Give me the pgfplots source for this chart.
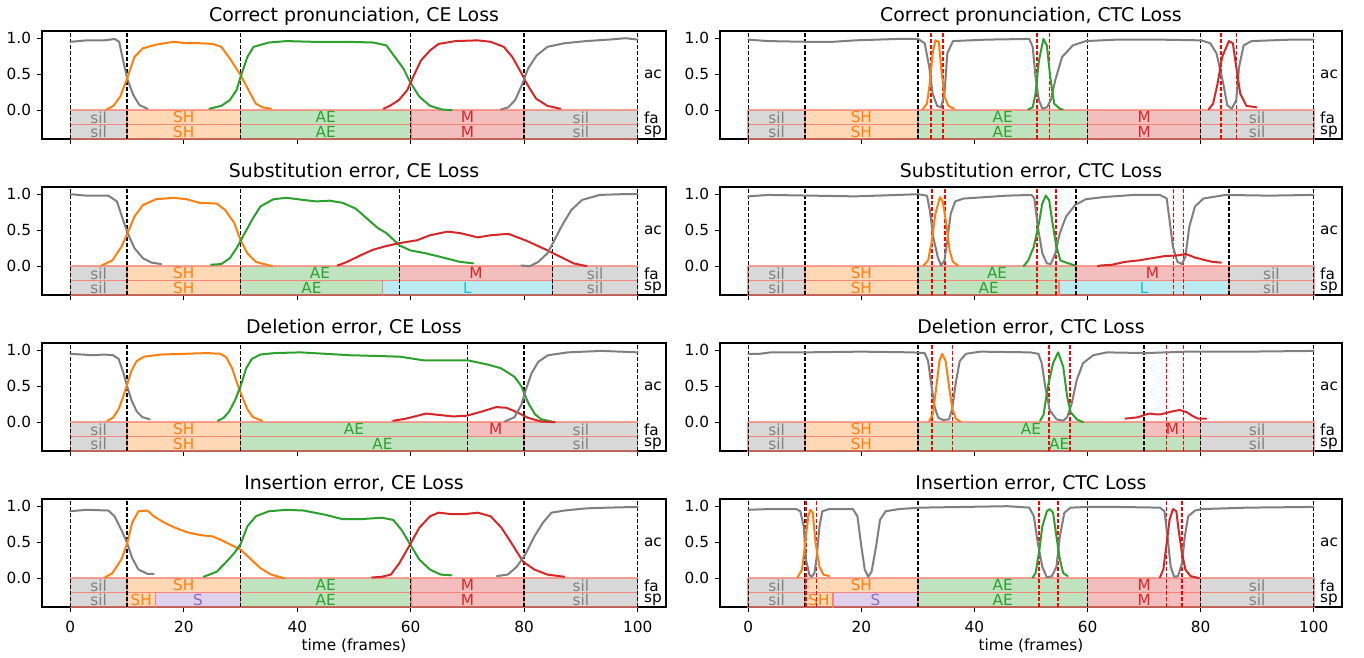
\documentclass[border=0pt]{standalone}
\usepackage{fontspec}
\setmainfont{DejaVu Sans}
\usepackage{pgfplots}
\pgfplotsset{compat=1.18}
\definecolor{tgray}{HTML}{7F7F7F}
\definecolor{torange}{HTML}{FF7F0E}
\definecolor{tgreen}{HTML}{2CA02C}
\definecolor{tred}{HTML}{D62728}
\definecolor{tpurple}{HTML}{9467BD}
\definecolor{tcyan}{HTML}{17BECF}
\definecolor{salmon}{HTML}{FA8072}
\newcommand{\tickfont}{\fontsize{15.3bp}{18bp}\selectfont}
\newcommand{\titlefont}{\fontsize{18.9bp}{22bp}\selectfont}
\newcommand{\lblfont}{\fontsize{15.3bp}{18bp}\selectfont}
% x1 x2 ytop ybot ymid color label xmid
\newcommand{\seg}[8]{%
  \addplot[draw=salmon, draw opacity=0.75, line width=1.6bp, fill=#6, fill opacity=0.3]
    coordinates {(#1,#3) (#2,#3) (#2,#4) (#1,#4) (#1,#3)};
  \node[text=#6, font=\lblfont, inner sep=0pt] at (axis cs:#8,#5) {#7};
}
\newcommand{\rowA}[5]{\seg{#1}{#2}{0}{-0.2}{-0.1}{#3}{#4}{#5}}
\newcommand{\rowB}[5]{\seg{#1}{#2}{-0.2}{-0.4}{-0.3}{#3}{#4}{#5}}
\newcommand{\vk}[1]{\addplot[black, line width=1.5bp, dash pattern=on 4bp off 2bp] coordinates {(#1,-0.4) (#1,1.1)};}
\newcommand{\vr}[1]{\addplot[red, line width=1.5bp, dash pattern=on 4bp off 2bp] coordinates {(#1,-0.4) (#1,1.1)};}
\newcommand{\crv}[2]{\addplot[#1, line width=2bp, line join=round, line cap=round] coordinates {#2};}
\newcommand{\side}{%
  \node[font=\tickfont, anchor=west, inner sep=0pt] at (axis cs:101.1,0.5) {ac};
  \node[font=\tickfont, anchor=west, inner sep=0pt] at (axis cs:101.1,-0.1) {fa};
  \node[font=\tickfont, anchor=west, inner sep=0pt] at (axis cs:101.1,-0.3) {sp};
}
\pgfplotsset{
  panel/.style={
    scale only axis, height=108bp, anchor=north west,
    xmin=-5, xmax=105, ymin=-0.4, ymax=1.1,
    xtick={0,20,...,100}, ytick={0,0.5,1},
    tick align=outside, tick pos=left, major tick length=5.3bp,
    axis line style={line width=1.1bp},
    every tick/.style={line width=1.1bp, black},
    /pgf/number format/assume math mode=true,
    ticklabel style={font=\tickfont},
    yticklabel style={/pgf/number format/fixed, /pgf/number format/fixed zerofill, /pgf/number format/precision=1, anchor=east, inner sep=0pt, xshift=-5.5bp},
    xticklabel style={anchor=base, inner sep=0pt, yshift=-20.3bp},
    title style={font=\titlefont, at={(0.5,1)}, anchor=base, yshift=4bp, inner sep=0pt},
    xlabel style={font=\tickfont, at={(0.5,0)}, anchor=base, yshift=-43bp, inner sep=0pt},
    clip=false,
  },
  L/.style={panel, width=624bp},
  R/.style={panel, width=622bp},
  nolab/.style={xticklabels={}},
}
\newcommand{\segsCorrect}{%
  \rowA{0}{10}{tgray}{sil}{5}\rowA{10}{30}{torange}{SH}{20}\rowA{30}{60}{tgreen}{AE}{45}\rowA{60}{80}{tred}{M}{70}\rowA{80}{100}{tgray}{sil}{90}
  \rowB{0}{10}{tgray}{sil}{5}\rowB{10}{30}{torange}{SH}{20}\rowB{30}{60}{tgreen}{AE}{45}\rowB{60}{80}{tred}{M}{70}\rowB{80}{100}{tgray}{sil}{90}
}
\newcommand{\segsSub}{%
  \rowA{0}{10}{tgray}{sil}{5}\rowA{10}{30}{torange}{SH}{20}\rowA{30}{58}{tgreen}{AE}{44}\rowA{58}{85}{tred}{M}{71.5}\rowA{85}{100}{tgray}{sil}{92.5}
  \rowB{0}{10}{tgray}{sil}{5}\rowB{10}{30}{torange}{SH}{20}\rowB{30}{55}{tgreen}{AE}{42.5}\rowB{55}{85}{tcyan}{L}{70}\rowB{85}{100}{tgray}{sil}{92.5}
}
\newcommand{\segsDel}{%
  \rowA{0}{10}{tgray}{sil}{5}\rowA{10}{30}{torange}{SH}{20}\rowA{30}{70}{tgreen}{AE}{50}\rowA{70}{80}{tred}{M}{75}\rowA{80}{100}{tgray}{sil}{90}
  \rowB{0}{10}{tgray}{sil}{5}\rowB{10}{30}{torange}{SH}{20}\rowB{30}{80}{tgreen}{AE}{55}\rowB{80}{100}{tgray}{sil}{90}
}
\newcommand{\segsIns}{%
  \rowA{0}{10}{tgray}{sil}{5}\rowA{10}{30}{torange}{SH}{20}\rowA{30}{60}{tgreen}{AE}{45}\rowA{60}{80}{tred}{M}{70}\rowA{80}{100}{tgray}{sil}{90}
  \rowB{0}{10}{tgray}{sil}{5}\rowB{10}{15}{torange}{SH}{12.5}\rowB{15}{30}{tpurple}{S}{22.5}\rowB{30}{60}{tgreen}{AE}{45}\rowB{60}{80}{tred}{M}{70}\rowB{80}{100}{tgray}{sil}{90}
}
\begin{document}
\begin{tikzpicture}
\useasboundingbox (0,0) rectangle (1364bp,-658bp);
%================ Row 1 left
\begin{axis}[L, nolab, at={(42bp,-31bp)}, title={Correct pronunciation, CE Loss}]
\segsCorrect
\vk{0}\vk{10}\vk{30}\vk{60}\vk{80}\vk{100}
\crv{tgray}{(0,0.95)(1.5,0.96)(2.8,0.97)(4.5,0.97)(5.9,0.97)(7,0.98)(7.8,0.99)(8.6,0.95)(9.3,0.69)(10.1,0.42)(11.1,0.21)(12.2,0.07)(13.6,0.02)}
\crv{torange}{(6.4,0.01)(7.6,0.06)(8.8,0.19)(10.1,0.46)(11.3,0.74)(12.8,0.86)(15.1,0.91)(18.2,0.95)(20.5,0.93)(22.8,0.93)(25.1,0.92)(26.6,0.88)(28.1,0.72)(30,0.49)(31.6,0.25)(32.7,0.09)(33.9,0.04)(35.4,0.02)}
\crv{tgreen}{(24.5,0.02)(26.6,0.06)(28.1,0.14)(29.3,0.28)(30,0.46)(31.2,0.74)(32.3,0.88)(35,0.94)(38.1,0.96)(42.7,0.95)(48.8,0.95)(53.4,0.94)(55.7,0.9)(57.2,0.74)(58.7,0.58)(59.9,0.39)(61.5,0.19)(63.4,0.06)(65.5,0.01)(67.2,0.0)}
\crv{tred}{(55.2,0.02)(56.3,0.06)(57.9,0.14)(59.4,0.28)(60.3,0.44)(61.8,0.69)(63.4,0.83)(64.9,0.92)(67.9,0.96)(71.8,0.97)(74.1,0.95)(76.4,0.88)(77.9,0.74)(79.4,0.53)(80.6,0.35)(82.1,0.16)(84.1,0.06)(86.4,0.02)}
\crv{tgray}{(75.9,0.01)(77.2,0.04)(78.4,0.14)(79.6,0.35)(80.7,0.58)(82.2,0.76)(84.1,0.88)(87.1,0.93)(90.9,0.96)(94.8,0.98)(97.9,1.0)(100,0.98)}
\side
\end{axis}
%================ Row 1 right
\begin{axis}[R, nolab, at={(720bp,-31bp)}, title={Correct pronunciation, CTC Loss}]
\segsCorrect
\vk{0}\vk{10}\vk{30}\vk{60}\vk{80}\vk{100}
\vr{32.3}\vr{34.4}\vr{51.1}\vr{53.3}\vr{83.6}\vr{86.3}
\crv{tgray}{(0,0.98)(3.5,0.96)(10.2,0.95)(15,0.95)(18.9,0.97)(26.6,0.99)(30,0.99)(31.2,0.93)(32,0.6)(32.6,0.23)(33.4,0.06)(34.1,0.04)(34.7,0.23)(35.2,0.79)(36.2,0.96)(42,0.98)(49.7,0.99)(50.3,0.88)(50.8,0.46)(51.4,0.14)(52,0.02)(52.8,0.04)(53.5,0.14)(54.3,0.42)(55.5,0.74)(57.4,0.9)(59.7,0.96)(65.1,0.98)(72.8,0.98)(80.1,0.97)(81.7,0.93)(82.8,0.79)(84,0.37)(84.7,0.07)(85.5,0.02)(86.3,0.14)(86.8,0.6)(87.6,0.9)(89,0.96)(95.9,0.98)(100,0.98)}
\crv{torange}{(30.8,0.01)(31.6,0.09)(32.1,0.37)(32.6,0.79)(33.1,0.97)(33.7,0.95)(34.1,0.6)(34.7,0.19)(35.4,0.06)(36.4,0.02)}
\crv{tgreen}{(49.5,0.01)(50.3,0.04)(50.8,0.23)(51.4,0.69)(52.2,0.99)(52.8,0.9)(53.4,0.46)(54.1,0.09)(55.1,0.02)(55.6,0.01)}
\crv{tred}{(81.4,0.01)(82.2,0.09)(83,0.37)(83.8,0.74)(85,0.96)(85.7,0.93)(86.3,0.6)(87,0.23)(88.1,0.06)(89.9,0.04)}
\side
\end{axis}
%================ Row 2 left
\begin{axis}[L, nolab, at={(42bp,-187bp)}, title={Substitution error, CE Loss}]
\segsSub
\vk{0}\vk{10}\vk{30}\vk{58}\vk{85}\vk{100}
\crv{tgray}{(0,1.0)(2.8,0.98)(6.7,0.98)(8.2,0.9)(9.3,0.64)(10.1,0.46)(11.3,0.25)(12.8,0.11)(14.3,0.05)(16,0.03)}
\crv{torange}{(5.5,0.01)(7.4,0.08)(9,0.27)(10.1,0.46)(11.3,0.69)(12.8,0.85)(15.1,0.93)(18.2,0.95)(20.5,0.93)(22.8,0.88)(25.8,0.87)(27.3,0.78)(28.9,0.6)(30,0.36)(31.2,0.18)(32.7,0.06)(35.6,0.0)}
\crv{tgreen}{(24.8,0.02)(26.6,0.03)(28.1,0.11)(29.3,0.25)(30.4,0.41)(32,0.64)(33.5,0.83)(35.8,0.93)(38.1,0.95)(41.1,0.92)(43.4,0.9)(45.7,0.91)(48,0.88)(50.3,0.8)(52.6,0.64)(54.2,0.53)(55.7,0.46)(58,0.29)(59.9,0.22)(62.6,0.18)(65.7,0.12)(68.7,0.06)(71,0.04)}
\crv{tred}{(47.1,0.01)(48.8,0.06)(51.1,0.15)(53.4,0.23)(55.7,0.28)(58,0.32)(61.1,0.36)(63.4,0.43)(66.5,0.48)(68.7,0.46)(71.8,0.4)(74.1,0.43)(77.2,0.45)(80.2,0.36)(83.3,0.25)(86.4,0.13)(88.7,0.04)(91,0.0)}
\crv{tgray}{(79.5,0.01)(81,0.0)(82.5,0.06)(84.1,0.18)(85.2,0.34)(86.7,0.57)(88.3,0.78)(90.2,0.92)(93.3,0.99)(97.1,1.0)(100,1.0)}
\side
\end{axis}
%================ Row 2 right
\begin{axis}[R, nolab, at={(720bp,-187bp)}, title={Substitution error, CTC Loss}]
\segsSub
\vk{0}\vk{10}\vk{30}\vk{58}\vk{85}\vk{100}
\vr{32.5}\vr{34.8}\vr{51.1}\vr{54.4}\vr{75.2}\vr{77.0}
\crv{tgray}{(0,0.97)(3.5,0.99)(11.2,0.98)(18.9,0.97)(26.6,0.99)(30,1.0)(31.6,0.98)(32.1,0.78)(32.7,0.41)(33.5,0.13)(34.1,0.01)(34.7,0.08)(35.2,0.36)(35.8,0.73)(36.6,0.9)(38.1,0.94)(42,0.96)(45.8,0.98)(50.1,0.99)(50.6,0.94)(51.2,0.55)(52,0.18)(52.8,0.04)(53.5,0.03)(54.3,0.18)(55.1,0.46)(56.2,0.69)(57.8,0.85)(59.7,0.93)(62.8,0.96)(68.2,0.99)(72.8,0.99)(74,0.94)(74.5,0.64)(75.1,0.27)(75.9,0.06)(76.7,0.03)(77.3,0.13)(78,0.55)(79,0.83)(80.5,0.94)(84.4,0.99)(92.1,0.98)(100,0.99)}
\crv{torange}{(31,0.01)(31.8,0.08)(32.4,0.32)(33.1,0.73)(33.9,0.96)(34.4,0.9)(35.1,0.55)(35.6,0.22)(36.2,0.06)(37.1,0.01)}
\crv{tgreen}{(48.7,0.0)(49.5,0.08)(50.5,0.27)(51.4,0.6)(52,0.87)(52.6,0.98)(53.2,0.92)(53.8,0.6)(54.5,0.27)(55.2,0.08)(56.2,0.05)(57.8,0.01)}
\crv{tred}{(61.8,0.0)(62.4,0.01)(64.3,0.02)(66.6,0.06)(69,0.08)(71.3,0.11)(73.6,0.14)(75.9,0.15)(77.4,0.17)(79,0.12)(80.5,0.09)(82.1,0.06)(83.6,0.05)}
\side
\end{axis}
%================ Row 3 left
\begin{axis}[L, nolab, at={(42bp,-343bp)}, title={Deletion error, CE Loss}]
\segsDel
\vk{0}\vk{10}\vk{30}\vk{70}\vk{80}\vk{100}
\crv{tgray}{(0,0.95)(2,0.94)(4,0.93)(6,0.94)(7.5,0.93)(8.5,0.88)(9.3,0.7)(10,0.5)(10.8,0.3)(11.7,0.15)(12.7,0.07)(14,0.04)}
\crv{torange}{(6.5,0.02)(7.5,0.06)(8.5,0.18)(9.3,0.35)(10,0.52)(10.8,0.72)(11.7,0.85)(13,0.91)(16,0.94)(20,0.95)(24,0.96)(26.5,0.95)(27.5,0.9)(28.5,0.75)(29.5,0.52)(30.3,0.35)(31.2,0.18)(32.2,0.07)(33.8,0.02)}
\crv{tgreen}{(26,0.02)(27,0.06)(28,0.15)(29,0.3)(30,0.5)(31,0.75)(32,0.88)(33.5,0.94)(36,0.96)(40.5,0.97)(45,0.95)(49.3,0.93)(54,0.92)(58.1,0.91)(62.2,0.86)(66,0.86)(70,0.86)(73.6,0.8)(75.9,0.75)(78.3,0.63)(79.5,0.5)(80.7,0.27)(81.9,0.11)(83,0.04)(84.8,0.01)}
\crv{tred}{(56.9,0.02)(59.2,0.05)(62.7,0.12)(65.1,0.1)(67.5,0.08)(69.8,0.09)(72.2,0.14)(75.1,0.21)(76.9,0.2)(78.7,0.14)(80.7,0.06)(83,0.01)(85.4,0.0)}
\crv{tgray}{(76.6,0.01)(78.3,0.07)(79.5,0.24)(80.2,0.43)(81.3,0.68)(82.5,0.84)(84.2,0.93)(87.7,0.97)(93.6,0.99)(97,0.98)(100,0.97)}
\side
\end{axis}
%================ Row 3 right
\begin{axis}[R, nolab, at={(720bp,-343bp)}, title={Deletion error, CTC Loss}]
\segsDel
\vk{0}\vk{10}\vk{30}\vk{70}\vk{80}\vk{100}
\vr{32.5}\vr{36.1}\vr{53.2}\vr{56.9}\vr{74.0}\vr{77.0}
\crv{tgray}{(0,0.95)(2,0.95)(4,0.97)(10,0.97)(20,0.98)(29,0.97)(31.2,0.96)(31.8,0.85)(32.4,0.5)(33,0.2)(33.6,0.06)(34.5,0.03)(35.5,0.04)(36.1,0.2)(36.7,0.55)(37.4,0.85)(38.5,0.95)(41,0.98)(49.8,0.97)(51.3,0.95)(51.9,0.82)(52.5,0.5)(53.3,0.17)(54.5,0.04)(55.7,0.02)(56.4,0.07)(57.2,0.26)(58.1,0.59)(59.2,0.82)(61,0.93)(63.4,0.97)(70.4,0.96)(77.5,0.98)(88.1,0.98)(100,0.99)}
\crv{torange}{(32,0.02)(32.6,0.1)(33.2,0.45)(33.8,0.85)(34.3,0.95)(34.9,0.85)(35.5,0.5)(36.1,0.18)(36.7,0.05)(37.5,0.01)}
\crv{tgreen}{(51.6,0.02)(52.2,0.1)(53,0.5)(53.9,0.82)(54.8,0.97)(55.7,0.77)(56.4,0.35)(57,0.14)(58.1,0.04)(59.2,0.0)}
\crv{tred}{(66.7,0.05)(68,0.06)(69,0.07)(70,0.1)(71,0.12)(72,0.11)(73,0.11)(74,0.13)(75,0.15)(76.3,0.17)(77.5,0.14)(78.5,0.09)(79.5,0.05)(81,0.05)}
\side
\end{axis}
%================ Row 4 left
\begin{axis}[L, at={(42bp,-499bp)}, title={Insertion error, CE Loss}, xlabel={time (frames)}]
\segsIns
\vk{0}\vk{10}\vk{30}\vk{60}\vk{80}\vk{100}
\crv{tgray}{(0,0.93)(2.8,0.95)(6.7,0.94)(7.8,0.86)(9,0.67)(10,0.49)(10.9,0.28)(12,0.12)(13.6,0.06)(14.7,0.06)}
\crv{torange}{(6.1,0.01)(7.4,0.07)(9,0.26)(10,0.48)(10.9,0.77)(12,0.93)(13.6,0.94)(14.7,0.86)(16.6,0.77)(18.2,0.71)(20.5,0.64)(22.8,0.6)(25.1,0.58)(26.6,0.53)(28.1,0.47)(30,0.4)(31.6,0.28)(33.5,0.14)(35.4,0.05)(37.7,0.0)}
\crv{tgreen}{(23.5,0.02)(25.8,0.09)(27.3,0.21)(28.9,0.35)(30,0.47)(31.2,0.72)(32.7,0.86)(35,0.93)(38.1,0.95)(41.1,0.94)(45,0.88)(48,0.82)(51.1,0.82)(54.9,0.84)(56.9,0.81)(58.4,0.67)(59.9,0.47)(61.5,0.26)(63.4,0.12)(65.3,0.05)(67.2,0.04)}
\crv{tred}{(53.2,0.01)(54.9,0.02)(56.5,0.05)(58,0.21)(59.9,0.47)(61.5,0.7)(63.4,0.86)(64.9,0.91)(67.2,0.89)(69.5,0.89)(71.8,0.91)(74.1,0.86)(76,0.7)(77.9,0.47)(79.8,0.23)(81.8,0.12)(84.1,0.05)(87.1,0.02)}
\crv{tgray}{(75.2,0.03)(77.1,0.05)(78.7,0.16)(80.2,0.33)(81.8,0.58)(83.3,0.77)(84.8,0.91)(87.1,0.94)(90.9,0.97)(94.8,0.98)(100,0.99)}
\side
\end{axis}
%================ Row 4 right
\begin{axis}[R, at={(720bp,-499bp)}, title={Insertion error, CTC Loss}, xlabel={time (frames)}]
\segsIns
\vk{0}\vk{10}\vk{30}\vk{60}\vk{80}\vk{100}
\vr{10.2}\vr{12.1}\vr{51.4}\vr{54.8}\vr{74.0}\vr{76.7}
\crv{tgray}{(0,0.95)(3.5,0.96)(8.5,0.96)(9.2,0.93)(9.8,0.72)(10.2,0.26)(10.8,0.05)(11.2,0.02)(11.7,0.07)(12.1,0.3)(12.6,0.72)(13.1,0.93)(14.3,0.96)(18.5,0.96)(19.3,0.86)(20,0.44)(20.6,0.12)(21.2,0.02)(21.8,0.09)(22.6,0.44)(23.3,0.81)(24.3,0.93)(26.6,0.96)(30.4,0.98)(38.1,0.99)(45.8,1.0)(49.7,0.98)(50.5,0.86)(51.2,0.49)(52,0.16)(52.8,0.01)(53.7,0.03)(54.5,0.16)(55.1,0.58)(55.9,0.91)(57,0.98)(60.1,0.99)(65.1,0.99)(72.8,0.98)(73.6,0.93)(74.2,0.53)(74.7,0.16)(75.3,0.02)(76,0.03)(76.7,0.21)(77.2,0.58)(77.8,0.86)(79,0.94)(80.2,0.96)(88.2,0.98)(100,0.99)}
\crv{torange}{(8.7,0.01)(9.5,0.12)(10,0.44)(10.6,0.86)(11,0.95)(11.4,0.91)(11.9,0.49)(12.6,0.16)(13.3,0.05)(14.3,0.03)}
\crv{tgreen}{(50.3,0.01)(50.8,0.07)(51.4,0.35)(52,0.72)(52.8,0.93)(53.3,0.96)(53.9,0.91)(54.5,0.58)(55.1,0.26)(55.7,0.07)(56.5,0.03)}
\crv{tred}{(72.8,0.01)(73.4,0.12)(74,0.49)(74.5,0.81)(75.1,0.96)(75.7,0.93)(76.1,0.67)(76.7,0.35)(77.3,0.12)(78.2,0.03)(79.7,0.0)}
\side
\end{axis}
\end{tikzpicture}
\end{document}
